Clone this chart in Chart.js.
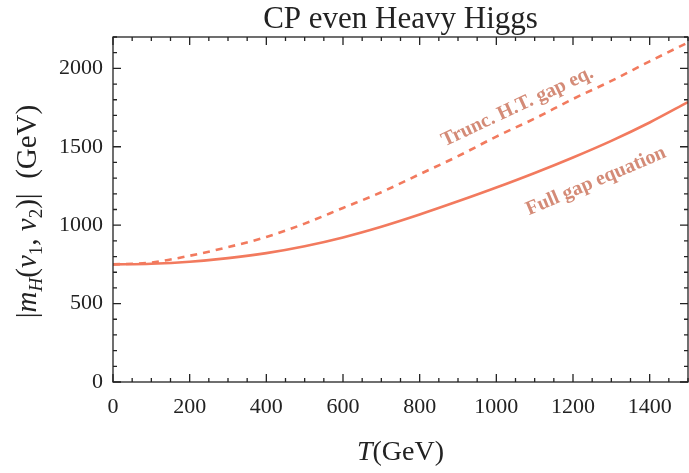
<!DOCTYPE html>
<html>
<head>
<meta charset="utf-8">
<script src="https://cdn.jsdelivr.net/npm/chart.js@4.4.1/dist/chart.umd.min.js"></script>
<style>
  html, body { margin: 0; padding: 0; background: #fff; }
  #wrap { width: 689px; height: 473px; }
</style>
</head>
<body>
<div id="wrap"><canvas id="chart"></canvas></div>
<script>
// Temperatures (GeV) and the two curves
const temps = [0, 100, 200, 300, 400, 500, 600, 700, 800, 900, 1000, 1100, 1200, 1300, 1400, 1500];
const fullGap = [750, 754, 767, 790, 822, 866, 922, 990, 1068, 1152, 1240, 1333, 1432, 1538, 1655, 1785];
const truncGap = [750, 762, 805, 860, 925, 1010, 1110, 1210, 1325, 1440, 1565, 1680, 1805, 1920, 2045, 2165];

const xTickValues = [0, 200, 400, 600, 800, 1000, 1200, 1400];
const yTickValues = [0, 500, 1000, 1500, 2000];

const chartTitle = 'CP even Heavy Higgs';
const fullLabel = 'Full gap equation';
const truncLabel = 'Trunc. H.T. gap eq.';

const LINE_COLOR = '#f27a5e';
const NOTE_COLOR = '#d48b77';
const SERIF = '"Liberation Serif", "DejaVu Serif", serif';

function toPoints(xs, ys) {
    return xs.map((x, i) => ({ x: x, y: ys[i] }));
}

// Draw a run of text pieces with different fonts, starting at (x, y)
function drawPieces(ctx, pieces, x, y) {
    pieces.forEach(p => {
        ctx.font = p.font;
        ctx.fillText(p.t, x, y + (p.dy || 0));
        x += ctx.measureText(p.t).width;
    });
}
function piecesWidth(ctx, pieces) {
    let w = 0;
    pieces.forEach(p => { ctx.font = p.font; w += ctx.measureText(p.t).width; });
    return w;
}

const normal = `29px ${SERIF}`;
const italic = `italic 29px ${SERIF}`;
const small = `19px ${SERIF}`;
const smallItalic = `italic 19px ${SERIF}`;

const yTitle = [
    { t: '|', font: normal },
    { t: 'm', font: italic },
    { t: 'H', font: smallItalic, dy: 6 },
    { t: '(', font: normal },
    { t: 'v', font: italic },
    { t: '1', font: small, dy: 6 },
    { t: ', ', font: normal },
    { t: 'v', font: italic },
    { t: '2', font: small, dy: 6 },
    { t: ')', font: normal },
    { t: '|', font: normal },
    { t: '  (GeV)', font: normal }
];
const xTitle = [
    { t: 'T', font: `italic 28px ${SERIF}` },
    { t: '(GeV)', font: `28px ${SERIF}` }
];

// Frame, inward ticks on all four sides, titles and curve notes
const framePlugin = {
    id: 'frame',
    afterDraw(chart) {
        const ctx = chart.ctx;
        const area = chart.chartArea;
        const xs = chart.scales.x;
        const ys = chart.scales.y;
        ctx.save();
        ctx.strokeStyle = '#222';
        ctx.lineWidth = 1.3;
        ctx.strokeRect(area.left, area.top, area.right - area.left, area.bottom - area.top);

        ctx.beginPath();
        for (let v = 0; v <= 1500; v += 50) {
            const px = xs.getPixelForValue(v);
            const len = v % 200 === 0 ? 8 : 4;
            ctx.moveTo(px, area.bottom); ctx.lineTo(px, area.bottom - len);
            ctx.moveTo(px, area.top); ctx.lineTo(px, area.top + len);
        }
        for (let v = 0; v <= 2200; v += 100) {
            const py = ys.getPixelForValue(v);
            const len = v % 500 === 0 ? 8 : 4;
            ctx.moveTo(area.left, py); ctx.lineTo(area.left + len, py);
            ctx.moveTo(area.right, py); ctx.lineTo(area.right - len, py);
        }
        ctx.stroke();

        // title
        ctx.fillStyle = '#222';
        ctx.textAlign = 'center';
        ctx.textBaseline = 'alphabetic';
        ctx.font = `31px ${SERIF}`;
        ctx.fillText(chartTitle, (area.left + area.right) / 2, 28);

        // axis titles
        ctx.textAlign = 'left';
        const xw = piecesWidth(ctx, xTitle);
        drawPieces(ctx, xTitle, (area.left + area.right) / 2 - xw / 2, 460);

        const yw = piecesWidth(ctx, yTitle);
        ctx.save();
        ctx.translate(36, (area.top + area.bottom) / 2 + 2);
        ctx.rotate(-Math.PI / 2);
        drawPieces(ctx, yTitle, -yw / 2, 0);
        ctx.restore();

        // curve notes
        ctx.fillStyle = NOTE_COLOR;
        ctx.font = `bold 20px ${SERIF}`;
        ctx.textAlign = 'center';
        ctx.textBaseline = 'middle';
        [[truncLabel, 1055, 1755, -25], [fullLabel, 1260, 1280, -23]].forEach(([txt, tx, ty, ang]) => {
            ctx.save();
            ctx.translate(xs.getPixelForValue(tx), ys.getPixelForValue(ty));
            ctx.rotate(ang * Math.PI / 180);
            ctx.fillText(txt, 0, 0);
            ctx.restore();
        });
        ctx.restore();
    }
};

const ctx = document.getElementById('chart').getContext('2d');
new Chart(ctx, {
    type: 'scatter',
    data: {
        datasets: [
            { label: fullLabel, data: toPoints(temps, fullGap), showLine: true, borderColor: LINE_COLOR,
              borderWidth: 2.6, pointRadius: 0, cubicInterpolationMode: 'monotone' },
            { label: truncLabel, data: toPoints(temps, truncGap), showLine: true, borderColor: LINE_COLOR,
              borderWidth: 2.6, borderDash: [7, 6], pointRadius: 0, cubicInterpolationMode: 'monotone' }
        ]
    },
    options: {
        responsive: true,
        maintainAspectRatio: false,
        animation: false,
        layout: { padding: { top: 37, right: 1, left: 0, bottom: 0 } },
        plugins: { legend: { display: false }, tooltip: { enabled: false } },
        scales: {
            x: {
                type: 'linear', min: 0, max: 1500,
                grid: { display: false, drawTicks: false },
                border: { display: false },
                afterBuildTicks: s => { s.ticks = xTickValues.map(v => ({ value: v })); },
                afterFit: s => { s.height = 91; },
                ticks: { color: '#222', padding: 12, maxRotation: 0, font: { family: SERIF, size: 22 },
                         callback: v => String(v) }
            },
            y: {
                type: 'linear', min: 0, max: 2200,
                grid: { display: false, drawTicks: false },
                border: { display: false },
                afterBuildTicks: s => { s.ticks = yTickValues.map(v => ({ value: v })); },
                afterFit: s => { s.width = 113; },
                ticks: { color: '#222', padding: 10, font: { family: SERIF, size: 22 },
                         callback: v => String(v) }
            }
        }
    },
    plugins: [framePlugin]
});
</script>
</body>
</html>
